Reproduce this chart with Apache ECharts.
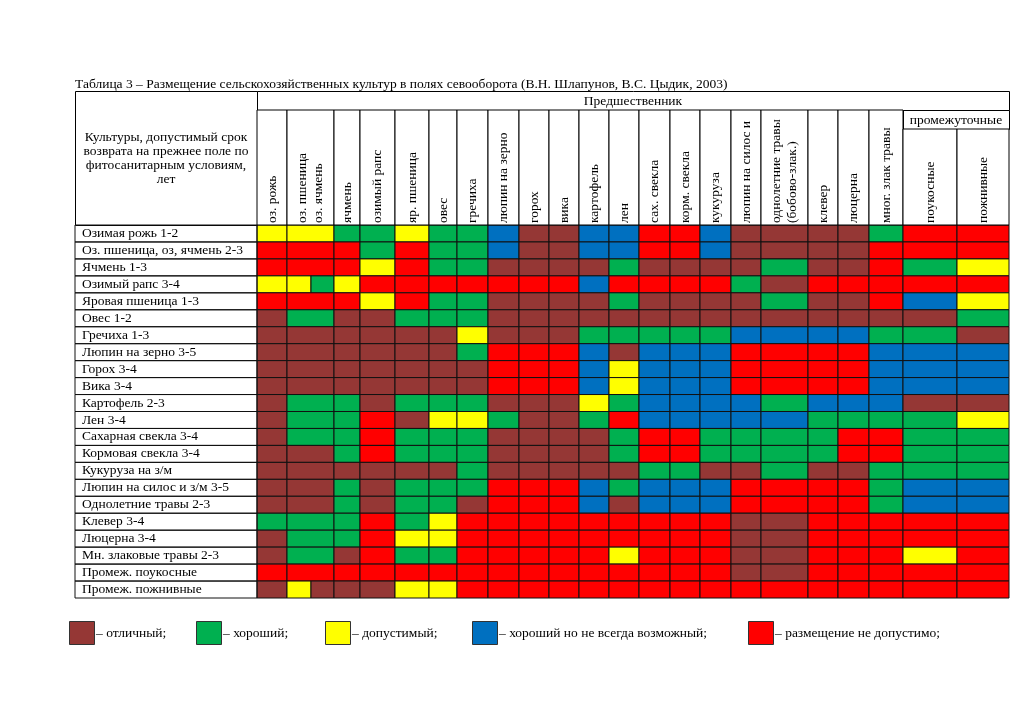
<!DOCTYPE html>
<html>
<head>
<meta charset="utf-8">
<script src="https://cdn.jsdelivr.net/npm/echarts@6/dist/echarts.min.js"></script>
<style>
  html, body { margin: 0; padding: 0; background: #fff; }
  #chart { width: 1024px; height: 724px; }
</style>
</head>
<body>
<div id="chart"></div>
<script>
const TITLE = 'Таблица 3 – Размещение сельскохозяйственных культур в полях севооборота (В.Н. Шлапунов, В.С. Цыдик, 2003)';
const CORNER_TEXT = 'Культуры, допустимый срок\nвозврата на прежнее поле по\nфитосанитарным условиям,\nлет';
const GROUP_TEXT = 'Предшественник';
const SUBGROUP_TEXT = 'промежуточные';

const rowLabels = [
  'Озимая рожь 1-2', 'Оз. пшеница, оз, ячмень 2-3', 'Ячмень 1-3', 'Озимый рапс 3-4',
  'Яровая пшеница 1-3', 'Овес 1-2', 'Гречиха 1-3', 'Люпин на зерно 3-5', 'Горох 3-4',
  'Вика 3-4', 'Картофель 2-3', 'Лен 3-4', 'Сахарная свекла 3-4', 'Кормовая свекла 3-4',
  'Кукуруза на з/м', 'Люпин на силос и з/м 3-5', 'Однолетние травы 2-3', 'Клевер 3-4',
  'Люцерна 3-4', 'Мн. злаковые травы 2-3', 'Промеж. поукосные', 'Промеж. пожнивные'
];

const colLabels = [
  'оз. рожь', 'оз. пшеница\nоз. ячмень', 'ячмень', 'озимый рапс', 'яр. пшеница', 'овес',
  'гречиха', 'люпин на зерно', 'горох', 'вика', 'картофель', 'лен', 'сах. свекла',
  'корм. свекла', 'кукуруза', 'люпин на силос и', 'однолетние травы\n(бобово-злак.)',
  'клевер', 'люцерна', 'мног. злак травы', 'поукосные', 'пожнивные'
];

const ratingNames = [
  'отличный', 'хороший', 'допустимый', 'хороший но не всегда возможный', 'размещение не допустимо'
];

// one digit per sub-column (index into ratingNames); "оз. пшеница / оз. ячмень" has two sub-columns
const ratings = [
  '22211211300334430000144',
  '44441411300334430000444',
  '44442411000010000100412',
  '22124444444344441044444',
  '44442411000010000100432',
  '01100111000000000000001',
  '00000002000111113333110',
  '00000001444303334444333',
  '00000000444323334444333',
  '00000000444323334444333',
  '01110111000213333133300',
  '01114022100143333311112',
  '01114111000014411114411',
  '00014111000014411114411',
  '00000001000001100100111',
  '00010111444313334444133',
  '00010110444303334444133',
  '11114124444444440044444',
  '01114224444444440044444',
  '01104114444424440044424',
  '44444444444444440044444',
  '02000224444444444444444'
];

// ---- layout ----
const COLORS = ['#953735', '#00b050', '#ffff00', '#0070c0', '#ff0000'];
const FONT = '"Liberation Serif", "DejaVu Serif", serif';
const FS = 13.5;
const subColWidths = [30, 24, 23, 26, 35, 34, 28, 31, 31, 30, 30, 30, 30, 31, 30, 31, 30, 47, 30, 31, 34, 54, 52];
const colSpans = [1, 2, 1, 1, 1, 1, 1, 1, 1, 1, 1, 1, 1, 1, 1, 1, 1, 1, 1, 1, 1, 1];
const GRID = { left: 257, right: 15, top: 225, bottom: 126 };
const TABLE_LEFT = 75, HEAD_TOP = 91, BAND1 = 110, BAND2 = 129;
const SUBGROUP_FROM = 20;   // header columns under "промежуточные"

const edges = [0];
subColWidths.forEach(w => edges.push(edges[edges.length - 1] + w));
const totalW = edges[edges.length - 1];

const colStart = [];
let acc = 0;
colSpans.forEach(s => { colStart.push(acc); acc += s; });

// cells: merge sub-columns of one header column when they share a rating
const cellData = [];
rowLabels.forEach((_, r) => {
  colSpans.forEach((span, c) => {
    const s0 = colStart[c];
    const vals = ratings[r].slice(s0, s0 + span).split('').map(Number);
    if (vals.every(v => v === vals[0])) {
      cellData.push([edges[s0], edges[s0 + span], r, vals[0]]);
    } else {
      vals.forEach((v, k) => cellData.push([edges[s0 + k], edges[s0 + k + 1], r, v]));
    }
  });
});

const headerData = colLabels.map((_, c) => [edges[colStart[c]], edges[colStart[c] + colSpans[c]], c]);

const chart = echarts.init(document.getElementById('chart'));
const gridRight = 1024 - GRID.right;
const subX0 = GRID.left + edges[colStart[SUBGROUP_FROM]];
const font = FS + 'px ' + FONT;

const legendX = [69, 196, 325, 472, 748];
const legendGraphics = [];
ratingNames.forEach((name, i) => {
  legendGraphics.push({
    type: 'rect', left: legendX[i], top: 621,
    shape: { width: 25, height: 23 },
    style: { fill: COLORS[i], stroke: '#333', lineWidth: 1 }
  });
  legendGraphics.push({
    type: 'text', x: legendX[i] + 27, y: 633,
    style: { text: '– ' + name + ';', font: font, fill: '#000', verticalAlign: 'middle' }
  });
});

chart.setOption({
  backgroundColor: '#fff',
  animation: false,
  title: {
    text: TITLE, left: 70, top: 72,
    textStyle: { fontFamily: FONT, fontSize: FS, fontWeight: 'normal', color: '#000' }
  },
  grid: GRID,
  xAxis: { type: 'value', min: 0, max: totalW, show: false },
  yAxis: {
    type: 'category', data: rowLabels, inverse: true,
    axisLine: { show: false }, axisTick: { show: false }, splitLine: { show: false },
    axisLabel: {
      interval: 0, align: 'left', margin: GRID.left - 82,
      fontFamily: FONT, fontSize: FS, color: '#000'
    }
  },
  graphic: [
    {
      type: 'rect', left: TABLE_LEFT, top: HEAD_TOP,
      shape: { width: GRID.left - TABLE_LEFT, height: GRID.top - HEAD_TOP },
      style: { fill: '#fff', stroke: '#000', lineWidth: 1 }
    },
    {
      type: 'text', x: (TABLE_LEFT + GRID.left) / 2, y: (HEAD_TOP + GRID.top) / 2,
      style: { text: CORNER_TEXT, font: font, fill: '#000', align: 'center', verticalAlign: 'middle', lineHeight: 14 }
    },
    {
      type: 'rect', left: GRID.left, top: HEAD_TOP,
      shape: { width: gridRight - GRID.left, height: BAND1 - HEAD_TOP },
      style: { fill: '#fff', stroke: '#000', lineWidth: 1 }
    },
    {
      type: 'text', x: (GRID.left + gridRight) / 2, y: (HEAD_TOP + BAND1) / 2 + 1,
      style: { text: GROUP_TEXT, font: font, fill: '#000', align: 'center', verticalAlign: 'middle' }
    },
    {
      type: 'rect', left: subX0, top: BAND1,
      shape: { width: gridRight - subX0, height: BAND2 - BAND1 },
      style: { fill: '#fff', stroke: '#000', lineWidth: 1 }
    },
    {
      type: 'text', x: (subX0 + gridRight) / 2, y: (BAND1 + BAND2) / 2 + 1,
      style: { text: SUBGROUP_TEXT, font: font, fill: '#000', align: 'center', verticalAlign: 'middle' }
    }
  ].concat(legendGraphics),
  series: [
    {
      name: 'cells', type: 'custom', data: cellData,
      encode: { x: [0, 1], y: 2 },
      renderItem: (params, api) => {
        const a = api.coord([api.value(0), api.value(2)]);
        const b = api.coord([api.value(1), api.value(2)]);
        const h = api.size([0, 1])[1];
        return {
          type: 'rect',
          shape: { x: a[0], y: a[1] - h / 2, width: b[0] - a[0], height: h },
          style: { fill: COLORS[api.value(3)], stroke: '#111', lineWidth: 1 }
        };
      }
    },
    {
      name: 'rowCells', type: 'custom', silent: true,
      data: rowLabels.map((_, r) => [0, r]),
      encode: { x: 0, y: 1 },
      renderItem: (params, api) => {
        const p = api.coord([0, api.value(1)]);
        const h = api.size([0, 1])[1];
        return {
          type: 'rect',
          shape: { x: TABLE_LEFT, y: p[1] - h / 2, width: p[0] - TABLE_LEFT, height: h },
          style: { fill: 'none', stroke: '#111', lineWidth: 1 }
        };
      }
    },
    {
      name: 'header', type: 'custom', silent: true, clip: false,
      data: headerData,
      encode: { x: [0, 1] },
      renderItem: (params, api) => {
        const c = api.value(2);
        const x0 = api.coord([api.value(0), 0])[0];
        const x1 = api.coord([api.value(1), 0])[0];
        const yTop = c >= SUBGROUP_FROM ? BAND2 : BAND1;
        return {
          type: 'group',
          children: [
            {
              type: 'rect',
              shape: { x: x0, y: yTop, width: x1 - x0, height: GRID.top - yTop },
              style: { fill: '#fff', stroke: '#000', lineWidth: 1 }
            },
            {
              type: 'text', x: (x0 + x1) / 2, y: GRID.top - 2, rotation: Math.PI / 2,
              style: {
                text: colLabels[c], font: font, fill: '#000',
                align: 'left', verticalAlign: 'middle', lineHeight: 16
              }
            }
          ]
        };
      }
    }
  ]
});
</script>
</body>
</html>
